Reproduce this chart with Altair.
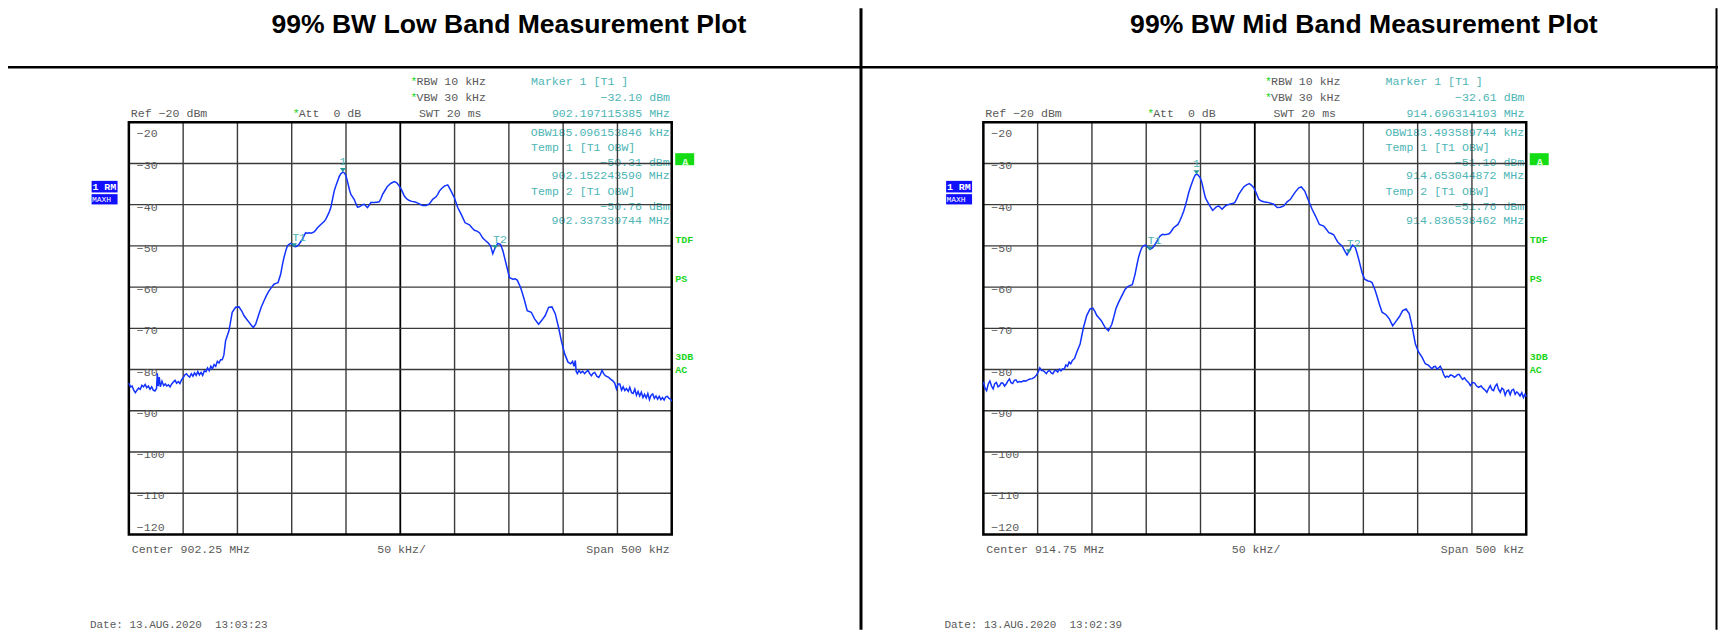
import altair as alt
import pandas as pd

# ---------------- data ----------------
# trace points: (offset from span start in kHz, level in dBm)
low_trace = [
    (0, -83.3), (1.5, -84.2), (3, -84.0), (4.5, -85.0), (6, -85.6), (7.5, -85.0), (9, -84.5), (10.5, -84.8),
    (12, -83.8), (13.5, -84.2), (15, -83.6), (16.5, -84.4), (18, -84.0), (19.5, -84.8), (21, -84.2), (22.5, -85.0),
    (24, -85.2), (25.5, -84.6), (26.2, -80.9), (27, -84.0), (28, -81.8), (29, -84.2), (30.5, -82.8), (32, -83.9),
    (33.5, -83.5), (35, -84.0), (36.5, -83.7), (38, -84.2), (39.5, -83.5), (41, -83.0), (42.5, -82.6), (44, -83.3),
    (45.5, -82.9), (47, -83.4), (48.5, -82.5), (50, -82.0), (51.5, -81.3), (53, -81.0), (54.5, -81.5), (56, -81.8),
    (57.5, -81.0), (59, -81.6), (60.5, -80.8), (62, -81.4), (63.5, -80.5), (65, -81.3), (66.5, -80.7), (68, -81.4),
    (69.5, -80.3), (71, -80.5), (72.5, -79.6), (74, -80.3), (75.5, -79.2), (77, -79.8), (78.5, -78.8), (80, -79.2),
    (81.5, -78.0), (83, -78.4), (84.5, -77.6), (86, -77.6), (87.5, -76.5),
    (89.1, -73.0), (92.2, -70.6), (95.2, -66.1), (98.3, -64.9), (101.4, -64.8), (104, -65.8), (106, -66.9),
    (108.5, -67.8), (110.6, -68.5), (112.6, -69.2), (114.6, -69.8), (116.8, -69.0), (119.8, -66.5), (122, -64.8),
    (124.5, -63.3), (127, -61.9), (129.1, -60.9), (131.5, -60.0), (133.7, -59.3), (135.5, -59.1), (137.4, -58.9),
    (139.8, -56.9), (141.5, -54.5), (142.9, -52.8), (144.5, -51.2), (146, -50.0), (147.5, -49.6), (149.1, -49.4),
    (150.6, -49.6), (152.2, -50.1), (153.7, -50.2), (155.2, -50.0), (156.8, -49.6), (158.3, -49.0), (159.8, -48.4),
    (161.4, -47.5), (162.9, -46.8), (164.5, -46.9), (166, -46.8), (168, -46.9), (170.6, -46.6), (172, -46.2),
    (173.7, -45.6), (176.8, -44.8), (179.8, -44.1), (181.4, -43.5), (182.9, -42.7), (184.5, -41.8), (186, -40.7),
    (187.5, -38.8), (189.1, -36.7), (190.7, -35.4), (192.2, -34.3), (193.7, -33.2), (195.2, -32.5), (197.1, -32.1),
    (198.5, -32.3), (199.8, -32.9), (201, -34.0), (202, -35.1), (203.3, -36.5), (204.5, -37.5), (206, -38.1),
    (207.5, -38.7), (209, -39.7), (210.6, -40.6), (212.2, -40.5), (213.7, -40.3), (215.3, -40.0), (216.8, -39.9),
    (218.3, -40.3), (219.8, -40.7), (221.4, -40.1), (222.9, -39.5), (226, -39.5), (228.3, -39.4), (230.6, -39.3),
    (232.2, -38.5), (233.7, -37.5), (236, -36.5), (238.3, -35.5), (241.5, -34.8), (244.5, -34.4), (246.8, -34.7),
    (249.1, -35.5), (251.5, -36.6), (253.7, -37.9), (256, -38.6), (258.3, -39.0), (260.6, -39.2), (262.9, -39.3),
    (265.2, -39.5), (267.5, -39.8), (270.6, -40.2), (273.7, -40.2), (276.8, -39.8), (279.8, -38.7), (282.9, -38.1),
    (284.5, -37.5), (286, -36.7), (288.3, -36.0), (290.6, -35.5), (293.7, -35.2), (296.8, -36.7), (299.8, -38.3),
    (302.9, -40.7), (306, -42.3), (309.7, -44.4), (313.7, -44.9), (316, -45.6), (318.3, -46.2), (320.6, -46.4),
    (322.9, -46.8), (326, -48.1), (328.3, -48.7), (330.6, -49.2), (333.1, -50.0), (335.2, -51.9), (337.4, -50.4),
    (339.8, -49.4), (342.3, -49.6), (344.5, -51.2), (346, -52.8), (347.5, -54.4), (350.6, -57.7), (353.7, -58.1),
    (355.7, -58.0), (357.7, -58.3), (360.8, -60.1), (362.6, -61.6), (364.5, -63.3), (366.9, -65.7), (370.6, -66.1),
    (373.7, -67.7), (377.4, -69.0), (380.5, -68.0), (383.5, -66.9), (386.6, -64.9), (389.7, -64.8), (392.8, -66.5),
    (395.8, -69.8), (398.3, -73.0),
    (401.4, -76.2), (404.5, -78.2), (407, -78.6), (408.7, -78.0), (410, -79.2), (411.2, -77.8), (412, -80.5),
    (413.1, -81.0), (414.5, -80.2), (416.2, -80.8), (418, -80.4), (419.8, -81.0), (421.5, -80.5), (422.9, -80.2),
    (424.5, -81.0), (426, -81.5), (427.5, -80.9), (429.1, -80.7), (431, -81.6), (432.8, -81.9), (434.3, -81.2),
    (435.8, -80.2), (437.3, -81.0), (438.9, -81.5), (440.5, -81.7), (442, -81.9), (444, -82.4), (446, -82.8),
    (447.5, -83.3), (449.1, -84.7), (450.6, -83.5), (452.2, -83.5), (453.8, -85.0), (455.3, -84.2), (456.8, -85.1),
    (458.3, -84.6), (460, -85.3), (461.4, -84.3), (463, -85.6), (464.5, -85.8), (466, -84.7), (467.5, -86.2),
    (469, -85.3), (470.5, -86.4), (472, -85.5), (473.5, -86.8), (475, -86.0), (476.5, -86.9), (478, -85.8),
    (479.5, -87.3), (481, -86.2), (482.5, -85.9), (484, -87.0), (485.5, -86.4), (487, -87.2), (488.5, -86.5),
    (490, -87.3), (491.5, -86.8), (493, -87.4), (494.5, -86.6), (496, -86.5), (497.5, -87.0), (499, -87.2),
    (500, -87.7),
]

mid_trace = [
    (0, -83.0), (1.5, -84.5), (3, -85.1), (4.5, -83.5), (6, -82.8), (7.5, -84.0), (9, -84.7), (10.5, -83.4),
    (12, -83.1), (13.5, -84.2), (15, -83.9), (16.5, -83.2), (18, -83.3), (19.5, -84.0), (21, -83.5), (22.5, -82.8),
    (24, -82.3), (25.5, -83.2), (27, -83.4), (28.5, -82.6), (30, -82.5), (31.5, -83.1), (33, -82.9), (35, -83.0),
    (37, -82.7), (39, -82.8), (41, -82.5), (43, -82.3), (45, -82.2), (47, -81.9), (49, -81.3), (50.5, -80.6),
    (52, -79.6), (53.5, -80.2), (55, -80.2), (56.5, -80.6), (58, -81.0), (59.5, -80.4), (61, -80.2), (62.5, -80.8),
    (64, -81.0), (65.5, -80.3), (67, -80.2), (68.5, -80.6), (70, -79.9), (71.5, -80.3), (73, -79.8), (74.5, -79.9),
    (76, -78.9), (77.5, -79.2), (79, -78.2), (80.5, -78.6), (82, -77.8), (84, -77.3), (86, -75.8),
    (89.1, -73.8), (92.2, -69.8), (95.2, -66.9), (98.3, -65.3), (100.8, -65.1), (102.7, -65.9), (104.5, -66.9),
    (106.5, -67.5), (108.5, -68.1), (110.4, -69.0), (112.2, -69.8), (115.2, -70.6), (118.3, -69.0), (120.2, -67.2),
    (122, -65.3), (124, -64.0), (126, -62.9), (128.3, -61.7), (130.6, -60.5), (132.5, -60.0), (134.3, -59.7),
    (137.2, -59.4), (139.7, -56.9), (141.3, -54.8), (142.9, -52.8), (144.5, -51.4), (146, -50.4), (147.5, -50.0),
    (149, -49.8), (150.5, -50.1), (152, -50.4), (153.6, -50.8), (155.2, -50.6), (156.7, -50.2), (158.2, -49.6),
    (159.8, -48.9), (161.4, -48.1), (163.2, -47.5), (165.1, -47.2), (167.1, -47.3), (169.1, -47.2), (170.7, -47.1),
    (172.2, -46.8), (173.7, -46.2), (175.2, -45.6), (177.2, -45.2), (179.2, -44.8), (181, -43.9), (182.9, -42.7),
    (184.5, -41.6), (186, -40.3), (187.5, -38.8), (189.1, -37.1), (190.7, -35.8), (192.2, -34.7), (193.7, -33.6),
    (195.2, -32.8), (196.3, -32.6), (197.4, -32.7), (199.8, -33.5), (201, -34.4), (202, -35.5), (203.3, -37.0),
    (204.5, -38.3), (206, -39.1), (207.5, -39.8), (209.3, -40.6), (211.2, -41.4), (212.8, -41.0), (214.3, -40.6),
    (216.8, -40.3), (218.3, -40.7), (219.8, -41.1), (221.7, -40.6), (223.5, -40.2), (225.5, -40.0), (227.5, -39.8),
    (229.5, -39.7), (231.5, -39.5), (233.4, -38.6), (235.2, -37.5), (237.5, -36.6), (239.8, -35.7), (242.4, -35.2),
    (245, -34.9), (247, -35.3), (249.1, -35.9), (251.4, -37.2), (253.7, -38.7), (256, -39.1), (258.3, -39.3),
    (260.6, -39.4), (262.9, -39.5), (265.2, -39.7), (267.5, -39.9), (270.6, -40.7), (273.6, -40.6), (276.7, -40.3),
    (279.8, -39.3), (282.8, -38.7), (285, -37.8), (287.4, -36.9), (290.5, -35.9), (292.9, -35.7), (296, -36.7),
    (299, -38.7), (302.8, -41.1), (305.8, -42.7), (309.5, -44.8), (313.5, -45.2), (316, -46.0), (318.1, -46.8),
    (320.4, -47.0), (322.7, -47.3), (324.7, -48.3), (326.7, -49.2), (330.4, -50.0), (332.8, -51.2), (335, -52.2),
    (337.1, -51.1), (340.2, -49.8), (342.6, -50.4), (344.2, -51.8), (345.7, -53.2), (348.8, -56.5), (351.2, -58.1),
    (354.3, -58.5), (356.2, -58.6), (358, -58.9), (361, -60.9), (362.9, -62.5), (364.7, -64.1), (367.2, -66.1),
    (370.9, -66.7), (373.9, -67.7), (377, -69.4), (380, -68.3), (383.1, -67.2), (386.2, -65.7), (389.3, -65.3),
    (392.3, -66.5), (394.8, -69.4), (397.9, -73.8),
    (400.9, -75.8), (404, -77.0), (407, -78.6), (410.1, -79.0), (411.5, -79.4), (413.2, -79.8), (414.8, -79.3),
    (416.3, -79.2), (417.8, -79.9), (419.3, -79.6), (420.8, -79.2), (422.4, -80.0), (424, -81.2), (425.5, -81.9),
    (427, -81.6), (428.5, -81.8), (430.2, -81.3), (432.2, -81.5), (433.8, -81.9), (435.3, -81.6), (436.8, -81.2),
    (438.3, -81.2), (440, -81.9), (441.4, -82.4), (443, -82.0), (445.4, -82.8), (447, -83.2), (448.5, -83.9),
    (450.5, -83.1), (452.5, -83.3), (454.3, -84.0), (456.1, -84.3), (458.4, -84.0), (460.7, -84.7), (462.2, -85.0),
    (463.8, -85.5), (465.3, -84.6), (466.9, -83.9), (468.4, -84.9), (469.9, -85.1), (471.5, -84.0), (473, -83.5),
    (474.5, -84.8), (476.1, -85.5), (477.6, -84.5), (479.1, -84.8), (480.6, -86.2), (482.2, -85.2), (483.7, -85.0),
    (485.2, -86.1), (486.7, -85.0), (488.3, -84.8), (489.8, -86.0), (491.3, -85.4), (492.8, -85.8), (494.3, -86.4),
    (495.9, -85.6), (497.4, -86.8), (498.9, -86.0), (500, -86.6),
]

marker_names = ["1", "T1", "T2"]
low_marker_mhz = [902.197115385, 902.152243590, 902.337339744]
low_marker_dbm = [-32.10, -50.31, -50.76]
mid_marker_mhz = [914.696314103, 914.653044872, 914.836538462]
mid_marker_dbm = [-32.61, -51.10, -51.76]

titles = ["99% BW Low Band Measurement Plot", "99% BW Mid Band Measurement Plot"]
center_mhz = [902.25, 914.75]
obw_khz = [185.096153846, 183.493589744]
date_stamps = ["13.AUG.2020  13:03:23", "13.AUG.2020  13:02:39"]
ref_dbm = -20
rbw_khz = 10
vbw_khz = 30
att_db = 0
swt_ms = 20
span_khz = 500
y_ticks = [-20, -30, -40, -50, -60, -70, -80, -90, -100, -110, -120]
x_grid_khz = [50, 100, 150, 200, 300, 350, 400, 450]
x_center_khz = [250]
side_flags = ["TDF", "PS", "3DB", "AC"]

# ---------------- styling ----------------
W, H = 1713, 622
MONO = "Liberation Mono"
SANS = "Liberation Sans"
FS = 11.6
GRAY = "#5a5a5a"
CYAN = "#4db5b5"
TEAL = "#249797"
GREEN = "#19d419"
BLUE = "#1232ff"
GRID = "#3a3a3a"
PX = 855.5  # horizontal shift of the second panel

one = pd.DataFrame({"n": [0]})


def m(s):
    return s.replace("-", "\u2212")


def T(s, x, y, color=GRAY, align="left", size=FS, weight="normal", font=MONO, baseline="middle"):
    s = s.replace("  ", " \u00a0")
    return alt.Chart(one).mark_text(
        text=s, align=align, baseline=baseline, font=font, fontSize=size,
        fontWeight=weight, color=color,
    ).encode(x=alt.value(x - 8), y=alt.value(y - 8))


def box(x1, x2, y1, y2, color):
    return alt.Chart(one).mark_rect(color=color).encode(
        x=alt.value(x1 - 8), x2=alt.value(x2 - 8), y=alt.value(y1 - 8), y2=alt.value(y2 - 8))


sy = alt.Scale(domain=[-120, -20], range=[534.7 - 8, 122 - 8])


def panel(i):
    ox = i * PX
    trace = [low_trace, mid_trace][i]
    mmhz = [low_marker_mhz, mid_marker_mhz][i]
    mdbm = [low_marker_dbm, mid_marker_dbm][i]
    start = center_mhz[i] - span_khz / 2000.0
    sx = alt.Scale(domain=[0, span_khz], range=[129 + ox - 8, 672.5 + ox - 8])

    def X(f):
        return alt.X(f, scale=sx, axis=None)

    def Y(f):
        return alt.Y(f, scale=sy, axis=None)

    L = []
    # title
    L.append(T(titles[i], 509.5 + i * 856, 33, "black", "center", 26.6, "bold", SANS, "alphabetic"))
    # header readouts
    L.append(T("*", 411 + ox, 81.5, GREEN))
    L.append(T(f"RBW {rbw_khz} kHz", 417 + ox, 81.5))
    L.append(T("*", 411 + ox, 98, GREEN))
    L.append(T(f"VBW {vbw_khz} kHz", 417 + ox, 98))
    L.append(T(m(f"Ref {ref_dbm} dBm"), 131 + ox, 113.5))
    L.append(T("*", 293 + ox, 113.5, GREEN))
    L.append(T(f"Att  {att_db} dB", 299 + ox, 113.5))
    L.append(T(f"SWT {swt_ms} ms", 419.5 + ox, 113.5))
    L.append(T("Marker 1 [T1 ]", 531.6 + ox, 81.5, CYAN))
    L.append(T(m(f"{mdbm[0]:.2f} dBm"), 670.8 + ox, 98, CYAN, "right"))
    L.append(T(f"{mmhz[0]:.9f} MHz", 670.8 + ox, 113.5, CYAN, "right"))
    # readouts inside the screen
    L.append(T(f"OBW{obw_khz[i]:.9f} kHz", 670.5 + ox, 132.5, CYAN, "right"))
    L.append(T("Temp 1 [T1 OBW]", 531.7 + ox, 147.5, CYAN))
    L.append(T(m(f"{mdbm[1]:.2f} dBm"), 670.5 + ox, 162.5, CYAN, "right"))
    L.append(T(f"{mmhz[1]:.9f} MHz", 670.5 + ox, 176, CYAN, "right"))
    L.append(T("Temp 2 [T1 OBW]", 531.7 + ox, 192, CYAN))
    L.append(T(m(f"{mdbm[2]:.2f} dBm"), 670.5 + ox, 207, CYAN, "right"))
    L.append(T(f"{mmhz[2]:.9f} MHz", 670.5 + ox, 221, CYAN, "right"))

    # grid
    L.append(alt.Chart(pd.DataFrame({"khz": x_grid_khz})).mark_rule(color=GRID, strokeWidth=1.4).encode(
        x=X("khz:Q"), y=alt.YDatum(-120, scale=sy, axis=None), y2=alt.datum(-20)))
    L.append(alt.Chart(pd.DataFrame({"khz": x_center_khz})).mark_rule(color="black", strokeWidth=1.8).encode(
        x=X("khz:Q"), y=alt.YDatum(-120, scale=sy, axis=None), y2=alt.datum(-20)))
    L.append(alt.Chart(pd.DataFrame({"db": y_ticks[1:-1]})).mark_rule(color=GRID, strokeWidth=1.4).encode(
        y=Y("db:Q"), x=alt.XDatum(0, scale=sx, axis=None), x2=alt.datum(span_khz)))
    # frame
    L.append(alt.Chart(one).mark_rect(fillOpacity=0, stroke="black", strokeWidth=2.5).encode(
        x=alt.XDatum(0, scale=sx, axis=None), x2=alt.datum(span_khz),
        y=alt.YDatum(-120, scale=sy, axis=None), y2=alt.datum(-20)))

    # y labels inside the frame
    ydf = pd.DataFrame({"db": y_ticks})
    lab = dict(align="left", baseline="alphabetic", font=MONO, fontSize=FS, color=GRAY, dx=8)
    for cond, dy in [("datum.db < -20 && datum.db > -120", 6), ("datum.db == -20", 14.7), ("datum.db == -120", -3)]:
        L.append(alt.Chart(ydf).transform_filter(cond).mark_text(dy=dy, **lab).encode(
            x=alt.XDatum(0, scale=sx, axis=None), y=Y("db:Q"), text=alt.Text("db:Q", format="d")))

    # trace
    tdf = pd.DataFrame(trace, columns=["khz", "dbm"])
    L.append(alt.Chart(tdf).mark_line(color=BLUE, strokeWidth=1.5).encode(x=X("khz:Q"), y=Y("dbm:Q")))

    # markers
    mdf = pd.DataFrame({"name": marker_names, "mhz": mmhz, "dbm": mdbm})
    mb = alt.Chart(mdf).transform_calculate(khz=f"(datum.mhz - {start}) * 1000")
    L.append(mb.mark_point(shape="M-0.75,-1L0.75,-1L0,0Z", size=64, filled=True, color=TEAL,
                           opacity=1, strokeWidth=0).encode(x=X("khz:Q"), y=Y("dbm:Q")))
    L.append(mb.transform_filter("datum.name == '1'").mark_text(
        align="center", baseline="alphabetic", dy=-7, font=MONO, fontSize=FS, color=CYAN).encode(
        x=X("khz:Q"), y=Y("dbm:Q"), text="name:N"))
    L.append(mb.transform_filter("datum.name != '1'").mark_text(
        align="left", baseline="alphabetic", dx=-2, dy=-6.5, font=MONO, fontSize=FS, color=CYAN).encode(
        x=X("khz:Q"), y=Y("dbm:Q"), text="name:N"))

    # status flags on the right
    L.append(box(676 + ox, 695 + ox, 153, 165, "#14dc14"))
    L.append(T("A", 686 + ox, 166, "#d8ffd8", "center", 11, "bold", MONO, "alphabetic"))
    for flag, fy in zip(side_flags, [240, 279, 357, 370]):
        L.append(T(flag, 676 + ox, fy, GREEN, "left", 10, "bold"))

    # trace info boxes on the left
    L.append(box(91.7 + ox, 117.7 + ox, 180.7, 192.3, "#1010ff"))
    L.append(box(91.7 + ox, 117.7 + ox, 194, 204.3, "#1010ff"))
    L.append(T("1 RM", 92.5 + ox, 187, "white", "left", 10, "bold"))
    L.append(T("MAXH", 92 + ox, 199.8, "white", "left", 8))

    # bottom annotations
    L.append(T(f"Center {center_mhz[i]:.2f} MHz", 132 + ox, 550))
    L.append(T(f"{span_khz // 10} kHz/", 402 + ox, 550, GRAY, "center"))
    L.append(T(f"Span {span_khz} kHz", 670.4 + ox, 550, GRAY, "right"))
    L.append(T(f"Date: {date_stamps[i]}", 90 + ox, 625, GRAY, "left", 11))
    return L


layers = []
# table lines
layers.append(alt.Chart(one).mark_rule(color="black", strokeWidth=2.5).encode(
    x=alt.value(0), x2=alt.value(1720 - 8), y=alt.value(67 - 8)))
layers.append(alt.Chart(one).mark_rule(color="black", strokeWidth=3).encode(
    x=alt.value(862 - 8), y=alt.value(0), y2=alt.value(H)))
layers.append(alt.Chart(one).mark_rule(color="black", strokeWidth=2).encode(
    x=alt.value(1718.5 - 8), y=alt.value(0), y2=alt.value(H)))
layers += panel(0)
layers += panel(1)

chart = alt.layer(*layers).resolve_scale(x="independent").properties(
    width=W, height=H, padding=0, background="white",
    autosize=alt.AutoSizeParams(type="none"),
).configure_view(stroke=None)

chart.save("out.html", embed_options={"renderer": "svg", "actions": False})
